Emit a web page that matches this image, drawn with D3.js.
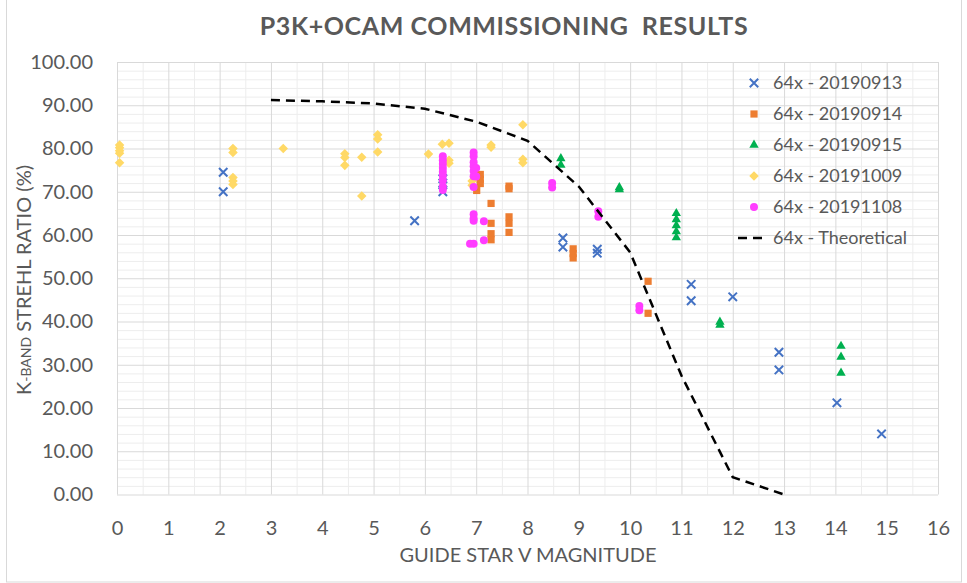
<!DOCTYPE html>
<html>
<head>
<meta charset="utf-8">
<script src="https://cdn.jsdelivr.net/npm/d3@7"></script>
<style>
  body { margin: 0; background: #fff; }
  text { font-family: Lato, "Open Sans", sans-serif; fill: #595959; }
</style>
</head>
<body>
<svg id="chart"></svg>
<script>
// Data
const x0913 = [2.07, 2.07, 5.8, 6.35, 6.35, 6.35, 8.69, 8.69, 9.36, 9.36, 11.19, 11.19, 12.0, 12.9, 12.9, 14.03, 14.9];
const y0913 = [74.5, 70.0, 63.3, 73.0, 72.0, 70.0, 59.3, 57.2, 56.7, 55.8, 48.6, 44.8, 45.7, 32.9, 28.8, 21.2, 14.0];

const x0914 = [7.08, 7.08, 7.08, 7.01, 7.29, 7.29, 7.29, 7.29, 7.64, 7.64, 7.64, 7.64, 7.64, 8.89, 8.89, 8.89, 10.35, 10.35];
const y0914 = [74.0, 72.9, 71.9, 70.3, 67.3, 62.7, 60.3, 58.9, 71.3, 70.7, 64.2, 62.7, 60.6, 56.8, 55.7, 54.7, 49.3, 41.9];

const x0915 = [8.65, 8.65, 9.79, 9.79, 10.9, 10.9, 10.9, 10.9, 10.9, 11.75, 11.75, 14.11, 14.11, 14.11];
const y0915 = [77.7, 76.2, 71.0, 70.5, 65.0, 63.6, 62.2, 60.8, 59.4, 39.9, 39.2, 34.3, 31.8, 28.1];

const x1009 = [0.05, 0.05, 0.05, 0.05, 0.05, 2.26, 2.26, 2.26, 2.26, 2.26, 3.24, 4.44, 4.44, 4.44, 4.77, 4.77,
               5.08, 5.08, 5.08, 6.07, 6.34, 6.47, 6.47, 6.47, 6.92, 6.92, 7.29, 7.29, 7.91, 7.91, 7.91];
const y1009 = [80.8, 80.2, 79.5, 78.9, 76.7, 80.0, 79.1, 73.3, 72.5, 71.7, 80.0, 78.8, 77.9, 76.1, 78.0, 69.0,
               83.2, 82.2, 79.2, 78.7, 81.0, 81.2, 77.3, 76.6, 72.5, 71.5, 80.8, 80.3, 85.5, 77.5, 76.7];

const x1108 = [6.35, 6.35, 6.35, 6.35, 6.35, 6.35, 6.35, 6.35, 6.35,
               6.95, 6.95, 6.95, 6.95, 6.95, 6.95, 6.95, 7.0, 7.0,
               6.95, 6.95, 6.95, 7.15, 6.95, 6.88, 7.15, 8.48, 8.48, 9.38, 9.38, 10.18, 10.18];
const y1108 = [78.2, 77.3, 76.4, 75.5, 74.6, 73.7, 72.6, 71.2, 70.4,
               79.1, 78.2, 76.8, 75.9, 74.8, 73.6, 71.1, 75.5, 73.5,
               64.8, 63.8, 63.3, 63.2, 58.0, 58.0, 58.8, 72.0, 71.0, 65.5, 64.2, 43.6, 42.6];

const xTheory = [3, 4, 5, 6, 7, 8, 9, 10, 11, 12, 13];
const yTheory = [91.2, 90.9, 90.4, 89.2, 86.2, 81.8, 71.2, 56.0, 27.5, 4.0, 0.0];

const seriesNames = ["64x - 20190913", "64x - 20190914", "64x - 20190915", "64x - 20191009", "64x - 20191108", "64x - Theoretical"];
const xTicks = d3.range(0, 17, 1);
const yTicks = d3.range(0, 101, 10);

// Layout
const width = 967;
const height = 583;
const margin = {top: 62, right: 29, bottom: 88.5, left: 117};

const svg = d3.select("#chart")
    .attr("width", width)
    .attr("height", height);

// light chart border
svg.append("rect")
    .attr("x", 6.5).attr("y", -1)
    .attr("width", 955).attr("height", height)
    .attr("fill", "none")
    .attr("stroke", "#d9d9d9");

const x = d3.scaleLinear().domain([0, 16]).range([margin.left, width - margin.right]);
const y = d3.scaleLinear().domain([0, 100]).range([height - margin.bottom, margin.top]);

// Minor gridlines
svg.append("g")
    .attr("transform", `translate(0,${height - margin.bottom})`)
    .call(d3.axisBottom(x).tickValues(d3.range(0.5, 16, 1)).tickSize(-(y(0) - y(100))).tickFormat(""))
    .call(g => g.select(".domain").remove())
    .call(g => g.selectAll("line").attr("stroke", "#ededed"));

svg.append("g")
    .attr("transform", `translate(${margin.left},0)`)
    .call(d3.axisLeft(y).tickValues(d3.range(2, 100, 2).filter(v => v % 10 !== 0)).tickSize(-(x(16) - x(0))).tickFormat(""))
    .call(g => g.select(".domain").remove())
    .call(g => g.selectAll("line").attr("stroke", "#ededed"));

// Major gridlines + tick labels
svg.append("g")
    .attr("transform", `translate(0,${height - margin.bottom})`)
    .call(d3.axisBottom(x).tickValues(xTicks).tickSize(-(y(0) - y(100))).tickPadding(26).tickFormat(d3.format("d")))
    .call(g => g.select(".domain").remove())
    .call(g => g.selectAll("line").attr("stroke", "#d9d9d9"))
    .call(g => g.selectAll("text").style("font-size", "20px").attr("fill", "#595959"));

svg.append("g")
    .attr("transform", `translate(${margin.left},0)`)
    .call(d3.axisLeft(y).tickValues(yTicks).tickSize(-(x(16) - x(0))).tickPadding(24).tickFormat(d3.format(".2f")))
    .call(g => g.select(".domain").remove())
    .call(g => g.selectAll("line").attr("stroke", "#d9d9d9"))
    .call(g => g.selectAll("text").style("font-size", "20px").attr("fill", "#595959"));

// Title
svg.append("text")
    .attr("x", 504)
    .attr("y", 35)
    .attr("text-anchor", "middle")
    .style("font-size", "25px")
    .style("font-weight", "bold")
    .style("letter-spacing", "0.6px")
    .attr("xml:space", "preserve")
    .text("P3K+OCAM COMMISSIONING  RESULTS");

// Axis titles
svg.append("text")
    .attr("x", 528)
    .attr("y", 562)
    .attr("text-anchor", "middle")
    .style("font-size", "20px")
    .text("GUIDE STAR V MAGNITUDE");

const yLabel = svg.append("text")
    .attr("transform", "translate(31,280) rotate(-90)")
    .attr("text-anchor", "middle")
    .style("font-size", "20px");
yLabel.append("tspan").text("K");
yLabel.append("tspan").style("font-size", "14px").text("-BAND");
yLabel.append("tspan").text(" STREHL RATIO (%)");

// Series definitions
const colors = ["#4472c4", "#ed7d31", "#00b050", "#ffd966", "#ff3cff", "#000000"];
const scatter = [
    {xs: x0913, ys: y0913, symbol: d3.symbolX, size: 48, stroke: true},
    {xs: x0914, ys: y0914, symbol: d3.symbolSquare, size: 52},
    {xs: x0915, ys: y0915, symbol: d3.symbolTriangle, size: 38},
    {xs: x1009, ys: y1009, symbol: d3.symbolDiamond2, size: 58},
    {xs: x1108, ys: y1108, symbol: d3.symbolCircle, size: 50}
];

function drawSymbol(sel, s, color) {
    const p = sel.append("path").attr("d", d3.symbol(s.symbol, s.size)());
    if (s.stroke) {
        p.attr("fill", "none").attr("stroke", color).attr("stroke-width", 2);
    } else {
        p.attr("fill", color);
    }
    return p;
}

scatter.forEach((s, i) => {
    const g = svg.append("g");
    s.xs.forEach((xv, j) => {
        drawSymbol(g, s, colors[i])
            .attr("transform", `translate(${x(xv)},${y(s.ys[j])})`);
    });
});

// Theoretical curve
const theory = xTheory.map((v, i) => [v, yTheory[i]]);
svg.append("path")
    .datum(theory)
    .attr("fill", "none")
    .attr("stroke", "#000")
    .attr("stroke-width", 2.5)
    .attr("stroke-dasharray", "9,6")
    .attr("d", d3.line().x(d => x(d[0])).y(d => y(d[1])));

// Legend
const legend = svg.append("g").attr("transform", "translate(754,83)");
seriesNames.forEach((name, i) => {
    const row = legend.append("g").attr("transform", `translate(0,${i * 31})`);
    if (i < 5) {
        drawSymbol(row, scatter[i], colors[i]);
    } else {
        row.append("line")
            .attr("x1", -16).attr("x2", 9)
            .attr("stroke", "#000")
            .attr("stroke-width", 2.5)
            .attr("stroke-dasharray", "9,6");
    }
    row.append("text")
        .attr("x", 19)
        .attr("dy", "0.35em")
        .style("font-size", "18px")
        .text(name);
});
</script>
</body>
</html>
